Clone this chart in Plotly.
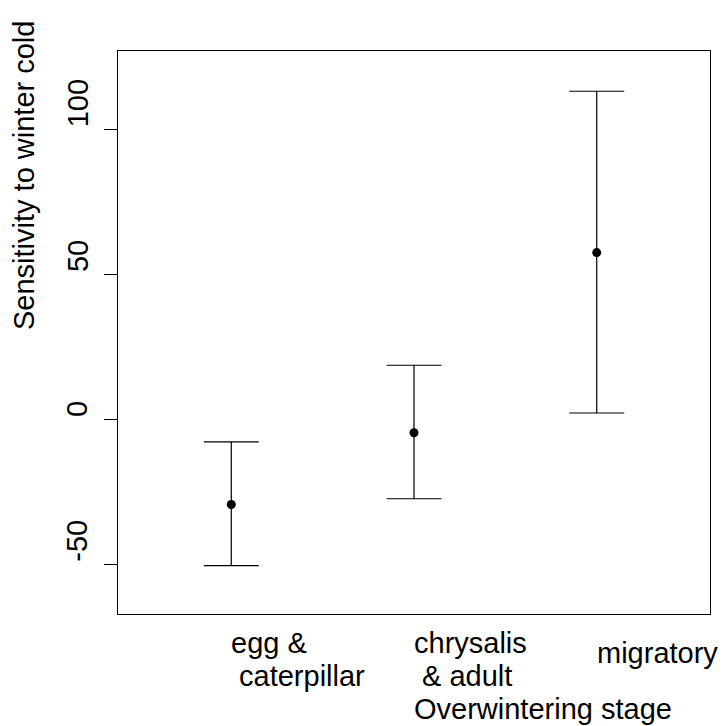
import plotly.graph_objects as go

# ---- data ----
stage_pos = [1, 2, 3]
stage_line1 = ["egg &", "chrysalis", "migratory"]
stage_line2 = ["\u00a0caterpillar", "\u00a0& adult", ""]
estimate = [-29.4, -4.6, 57.6]
upper = [-7.8, 18.7, 113.3]
lower = [-50.5, -27.4, 2.2]
y_ticks = [-50, 0, 50, 100]
y_ticklabels = ["-50", "0", "50", "100"]
x_title = "Overwintering stage"
y_title = "Sensitivity to winter cold"

FONT = "Liberation Sans, Arial, sans-serif"
FS = 29

err_plus = [u - e for u, e in zip(upper, estimate)]
err_minus = [e - l for e, l in zip(estimate, lower)]

fig = go.Figure()
fig.add_trace(go.Scatter(
    x=stage_pos, y=estimate, mode="markers",
    marker=dict(color="black", size=9),
    error_y=dict(type="data", symmetric=False, array=err_plus, arrayminus=err_minus,
                 color="black", thickness=1.2, width=27.5),
    showlegend=False, hoverinfo="skip",
))

annotations = []
# y tick labels (rotated, starting at the tick)
for v, t in zip(y_ticks, y_ticklabels):
    annotations.append(dict(
        x=-0.0684, xref="paper", y=v, yref="y", text=t, showarrow=False,
        textangle=-90, xanchor="center", yanchor="bottom",
        font=dict(family=FONT, size=FS, color="black"),
    ))


def below_axis(x, text, yshift):
    return dict(
        x=x, xref="x", y=0, yref="paper", text=text, showarrow=False,
        xanchor="left", yanchor="top", align="left", yshift=yshift, xshift=-1,
        borderpad=0, font=dict(family=FONT, size=FS, color="black"),
    )


# category labels (left aligned at each stage); single-line labels sit between the two lines
for p, l1, l2 in zip(stage_pos, stage_line1, stage_line2):
    if l2:
        annotations.append(below_axis(p, l1, -12))
        annotations.append(below_axis(p, l2, -45))
    else:
        annotations.append(below_axis(p, l1, -22))
# x axis title
annotations.append(below_axis(stage_pos[1], x_title, -78))
# y axis title
annotations.append(dict(
    x=-0.1588, xref="paper", y=0.7797, yref="paper", text=y_title, showarrow=False,
    textangle=-90, xanchor="center", yanchor="middle",
    font=dict(family=FONT, size=FS, color="black"),
))

fig.update_layout(
    width=722, height=726,
    margin=dict(l=118, r=12, t=51, b=112),
    paper_bgcolor="white", plot_bgcolor="white",
    font=dict(family=FONT, size=FS, color="black"),
    annotations=annotations,
    xaxis=dict(range=[0.38, 3.62], showgrid=False, zeroline=False,
               showticklabels=False, ticks="", showline=True, mirror=True,
               linecolor="black", linewidth=1),
    yaxis=dict(range=[-67.2, 127.2], showgrid=False, zeroline=False,
               tickvals=y_ticks, showticklabels=False, ticks="outside",
               ticklen=13, tickwidth=1, tickcolor="black",
               showline=True, mirror=True, linecolor="black", linewidth=1),
)

fig.write_html("out.html")
